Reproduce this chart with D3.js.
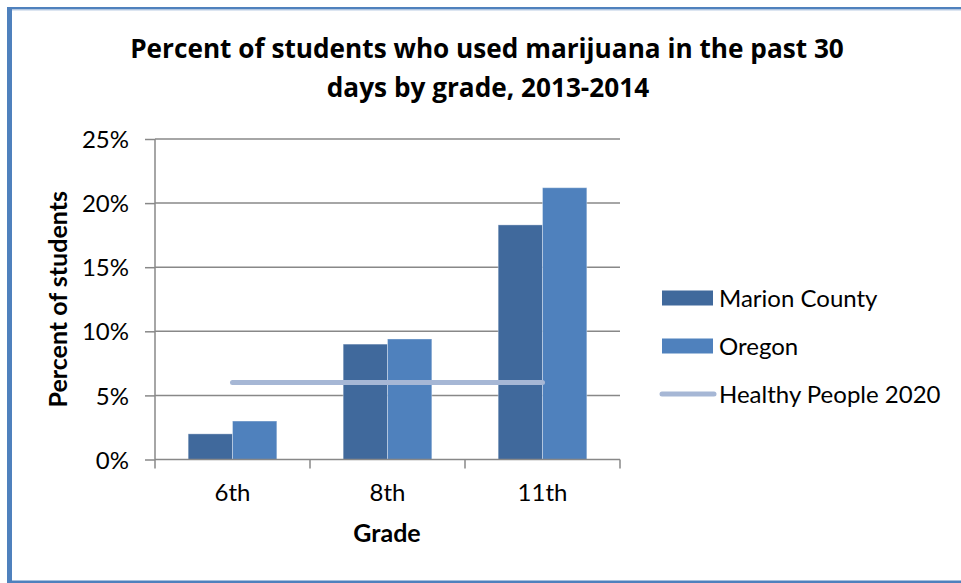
<!DOCTYPE html>
<html>
<head>
<meta charset="utf-8">
<script src="https://cdn.jsdelivr.net/npm/d3@7"></script>
<style>
  html, body { margin: 0; padding: 0; background: #fff; }
  svg { display: block; font-family: Lato, "Open Sans", sans-serif; }
</style>
</head>
<body>
<svg id="chart" width="961" height="583"></svg>
<script>
// ---- data ----
const titleLines = ["Percent of students who used marijuana in the past 30", "days by grade, 2013-2014"];
const grades = ["6th", "8th", "11th"];
const seriesNames = ["Marion County", "Oregon"];
const marionCounty = [2.0, 9.0, 18.3];
const oregon = [3.0, 9.4, 21.2];
const healthyPeopleName = "Healthy People 2020";
const healthyPeople2020 = [6.0, 6.0, 6.0];
const yTicks = [0, 5, 10, 15, 20, 25];
const yTitle = "Percent of students";
const xTitle = "Grade";

const colors = { "Marion County": "#40699c", "Oregon": "#4f81bd" };
const hpColor = "#a6b7d5";
const gridColor = "#888888";

const svg = d3.select("#chart");

// frame border (Excel style)
svg.append("rect").attr("x", 7).attr("y", 7).attr("width", 961).attr("height", 2.5).attr("fill", "#4f81bd");
svg.append("rect").attr("x", 7).attr("y", 9.5).attr("width", 961).attr("height", 1).attr("fill", "#b9cbe4");
svg.append("rect").attr("x", 7).attr("y", 7).attr("width", 5).attr("height", 576).attr("fill", "#4f81bd");
svg.append("rect").attr("x", 7).attr("y", 580.5).attr("width", 961).attr("height", 3).attr("fill", "#4f81bd");

const plot = { left: 155, right: 620, top: 139, bottom: 459.5 };

const x = d3.scaleBand().domain(grades).range([plot.left, plot.right]).paddingInner(0).paddingOuter(0);
const groupW = x.bandwidth() * 0.572;
const x1 = d3.scaleBand().domain(seriesNames)
  .range([(x.bandwidth() - groupW) / 2, (x.bandwidth() + groupW) / 2]).padding(0);
const y = d3.scaleLinear().domain([0, 25]).range([plot.bottom, plot.top]);

// gridlines
svg.append("g").selectAll("line").data(yTicks.filter(d => d > 0)).join("line")
  .attr("x1", plot.left).attr("x2", plot.right)
  .attr("y1", d => y(d)).attr("y2", d => y(d))
  .attr("stroke", gridColor).attr("stroke-width", 1.5);

// bars
const series = [marionCounty, oregon];
const barsG = svg.append("g");
seriesNames.forEach((name, si) => {
  barsG.selectAll(null).data(grades).join("rect")
    .attr("x", g => x(g) + x1(name))
    .attr("width", x1.bandwidth())
    .attr("y", (g, i) => y(series[si][i]))
    .attr("height", (g, i) => y(0) - y(series[si][i]))
    .attr("fill", colors[name])
    .attr("stroke", "rgba(255,255,255,0.35)")
    .attr("stroke-width", 1);
});

// Healthy People 2020 line
const line = d3.line().x((d, i) => x(grades[i]) + x.bandwidth() / 2).y(d => y(d));
svg.append("path").datum(healthyPeople2020).attr("d", line)
  .attr("fill", "none").attr("stroke", hpColor).attr("stroke-width", 5).attr("stroke-linecap", "round");

// y axis
const yAxis = d3.axisLeft(y).tickValues(yTicks).tickFormat(d => d + "%").tickSize(10).tickPadding(16);
const yg = svg.append("g").attr("transform", `translate(${plot.left},0)`).call(yAxis);
yg.select(".domain").attr("stroke", gridColor).attr("stroke-width", 1.5).attr("d", `M-0,${plot.top}V${plot.bottom}`);
yg.selectAll(".tick line").attr("stroke", gridColor).attr("stroke-width", 1.5);
yg.selectAll(".tick text").attr("font-family", "Lato, sans-serif").attr("font-size", 24).attr("fill", "#000").attr("dy", "0.36em");

// x axis
const xAxis = d3.axisBottom(x).tickSize(0).tickPadding(24);
const xg = svg.append("g").attr("transform", `translate(0,${plot.bottom})`).call(xAxis);
xg.select(".domain").attr("stroke", gridColor).attr("stroke-width", 1.5).attr("d", `M${plot.left},0H${plot.right}`);
xg.selectAll(".tick text").attr("font-family", "Lato, sans-serif").attr("font-size", 24).attr("fill", "#000").attr("dy", "0.71em");
// category boundary ticks
const bounds = grades.map(g => x(g)).concat([x(grades[grades.length - 1]) + x.bandwidth()]);
xg.append("g").selectAll("line").data(bounds).join("line")
  .attr("x1", d => d).attr("x2", d => d).attr("y1", 0).attr("y2", 9)
  .attr("stroke", gridColor).attr("stroke-width", 1.5);

// titles
function fitWidth(sel, target) {
  const w = sel.node().getComputedTextLength();
  const fs = parseFloat(sel.attr("font-size"));
  sel.attr("font-size", fs * target / w);
}
const t = svg.append("g").attr("font-family", "'Open Sans', Lato, sans-serif").attr("font-weight", "bold").attr("fill", "#000");
const t1 = t.append("text").attr("text-anchor", "middle").attr("x", 487).attr("y", 58).attr("font-size", 24).text(titleLines[0]);
fitWidth(t1, 714);
const t2 = t.append("text").attr("text-anchor", "middle").attr("x", 488).attr("y", 97).attr("font-size", t1.attr("font-size")).text(titleLines[1]);

svg.append("text").attr("transform", `translate(67,${(plot.top + plot.bottom) / 2}) rotate(-90)`)
  .attr("text-anchor", "middle").attr("font-weight", "bold").attr("font-size", 25).attr("fill", "#000").text(yTitle);

svg.append("text").attr("x", 387).attr("y", 542).attr("text-anchor", "middle")
  .attr("font-weight", "bold").attr("font-size", 25).attr("fill", "#000").text(xTitle);

// legend
const legendItems = [
  { name: seriesNames[0], type: "rect", cy: 298 },
  { name: seriesNames[1], type: "rect", cy: 346 },
  { name: healthyPeopleName, type: "line", cy: 394 }
];
const lg = svg.append("g");
legendItems.forEach(it => {
  if (it.type === "rect") {
    lg.append("rect").attr("x", 662).attr("y", it.cy - 7.5).attr("width", 51).attr("height", 15).attr("fill", colors[it.name]);
  } else {
    lg.append("line").attr("x1", 662).attr("x2", 714).attr("y1", it.cy).attr("y2", it.cy)
      .attr("stroke", hpColor).attr("stroke-width", 5).attr("stroke-linecap", "round");
  }
  lg.append("text").attr("x", 719).attr("y", it.cy).attr("dy", "0.36em")
    .attr("font-size", 24).attr("fill", "#000").text(it.name);
});
</script>
</body>
</html>
